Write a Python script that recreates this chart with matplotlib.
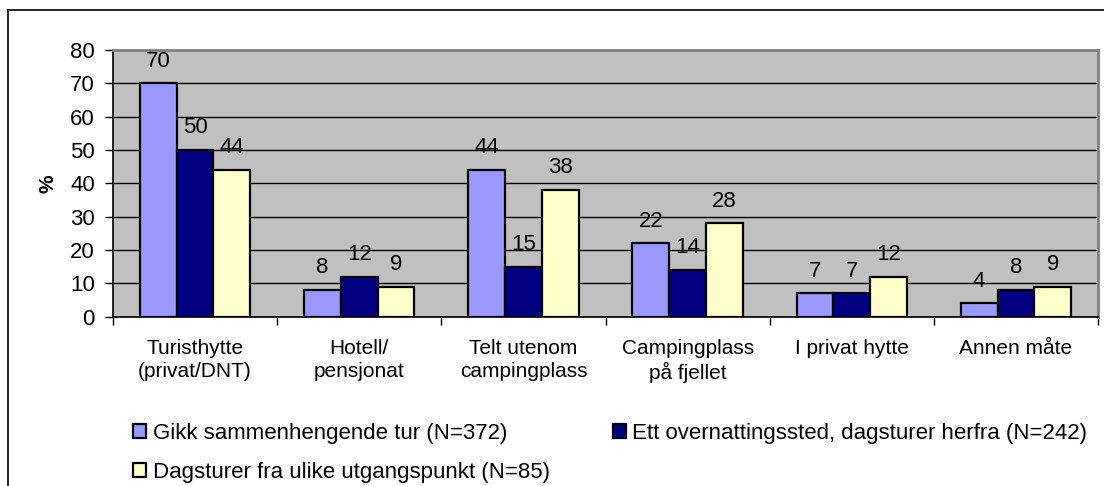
import numpy as np
import matplotlib.pyplot as plt
from matplotlib.patches import Patch
from matplotlib.lines import Line2D

plt.rcParams['font.family'] = ['Liberation Sans', 'DejaVu Sans']

categories = ['Turisthytte\n(privat/DNT)', 'Hotell/\npensjonat', 'Telt utenom\ncampingplass',
              'Campingplass\npå fjellet', 'I privat hytte', 'Annen måte']
series_names = ['Gikk sammenhengende tur (N=372)',
                'Ett overnattingssted, dagsturer herfra (N=242)',
                'Dagsturer fra ulike utgangspunkt (N=85)']
gikk = [70, 8, 44, 22, 7, 4]
ett = [50, 12, 15, 14, 7, 8]
dags = [44, 9, 38, 28, 12, 9]
colors = ['#9999FF', '#000080', '#FFFFCC']

fig = plt.figure(figsize=(11.04, 4.86), dpi=100)
ax = fig.add_axes([113/1104, 1 - 316.7/486, (1098-113)/1104, (316.7-50)/486])
ax.set_facecolor('#C0C0C0')

x = np.arange(len(categories)) + 0.5
w = 0.224
for k, (vals, col) in enumerate(zip([gikk, ett, dags], colors)):
    pos = x + (k - 1) * w
    ax.bar(pos, vals, w, color=col, edgecolor='black', linewidth=1.6, zorder=3)
    for px, v in zip(pos, vals):
        ax.annotate(str(v), (px, v), xytext=(0, 12), textcoords='offset points',
                    ha='center', va='baseline', fontsize=16, zorder=4)

ax.set_xlim(0, len(categories))
ax.set_ylim(0, 80)
ax.set_yticks(range(0, 81, 10))
ax.yaxis.grid(True, color='black', linewidth=1)
ax.set_axisbelow(True)

# ticks between groups, labels centred under each group
ax.set_xticks(np.arange(len(categories) + 1))
ax.set_xticklabels([])
ax.set_xticks(x, minor=True)
ax.set_xticklabels(categories, minor=True, fontsize=15, linespacing=1.25)
ax.tick_params(axis='x', which='minor', length=0, pad=16)
ax.tick_params(axis='x', which='major', length=6, width=1, color='black', direction='out')
ax.tick_params(axis='y', length=6, width=1, pad=7, labelsize=16)

for s in ['top', 'right']:
    ax.spines[s].set_color('#808080')
    ax.spines[s].set_linewidth(2)
ax.spines['left'].set_linewidth(1.2)
ax.spines['bottom'].set_linewidth(1.2)

ax.set_ylabel('%', fontsize=15, fontweight='bold', labelpad=9)

handles = [Patch(facecolor=c, edgecolor='black', linewidth=1.6) for c in colors]
order = [0, 2, 1]
fig.legend([handles[i] for i in order], [series_names[i] for i in order],
           loc='upper left', bbox_to_anchor=(133/1104, 1 - 423/486), ncol=2,
           frameon=False, fontsize=16, handlelength=0.6, handleheight=0.6,
           handletextpad=0.28, labelspacing=0.8, columnspacing=2.85,
           borderpad=0, borderaxespad=0)

# outer chart frame (left and top edges)
fig.add_artist(Line2D([8/1104, 8/1104], [0, 1 - 10/486], transform=fig.transFigure,
                      color='black', linewidth=1.2))
fig.add_artist(Line2D([8/1104, 1], [1 - 10/486, 1 - 10/486], transform=fig.transFigure,
                      color='black', linewidth=1.2))

fig.savefig('out.png', dpi=100)
